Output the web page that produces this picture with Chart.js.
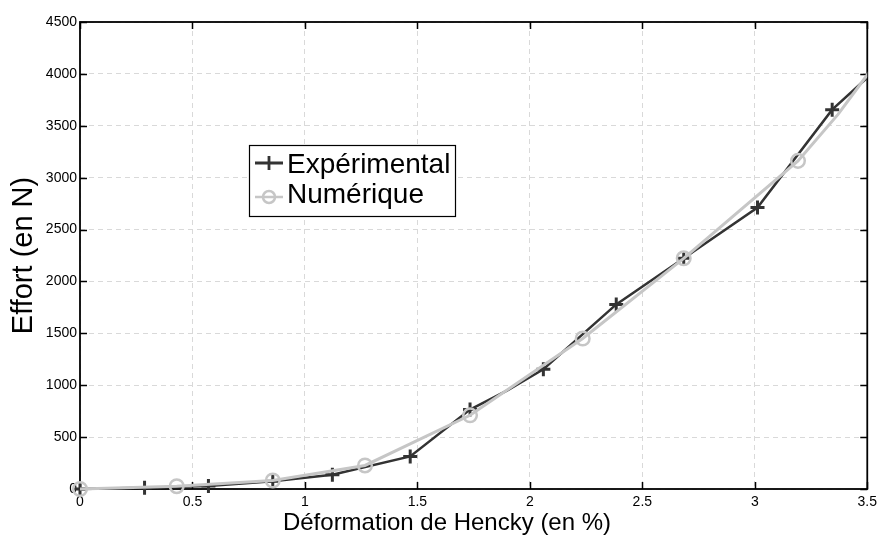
<!DOCTYPE html>
<html>
<head>
<meta charset="utf-8">
<script src="https://cdn.jsdelivr.net/npm/chart.js@4.4.0/dist/chart.umd.min.js"></script>
<style>
  html, body { margin: 0; padding: 0; background: #fff; }
  canvas { display: block; }
</style>
</head>
<body>
<canvas id="chart" width="882" height="535"></canvas>
<script>
// Expérimental (points with "+" markers)
const expStrain = [0, 0.287, 0.571, 0.857, 1.122, 1.468, 1.734, 2.06, 2.384, 2.684, 3.012, 3.344, 3.64];
const expForce  = [0, 12, 29, 75, 137, 314, 765, 1154, 1779, 2223, 2712, 3655, 4240];
// extra points of the black curve without marker
const expCurveStrain = [1.9];
const expCurveForce  = [950];

// Numérique (points with circle markers)
const numStrain = [0, 0.43, 0.857, 1.267, 1.734, 2.235, 2.684, 3.192, 3.65];
const numForce  = [0, 27, 82, 227, 710, 1450, 2223, 3162, 4430];
const numCurveStrain = [3.37];
const numCurveForce  = [3610];

const xTicks = [0, 0.5, 1, 1.5, 2, 2.5, 3, 3.5];
const yTicks = [0, 500, 1000, 1500, 2000, 2500, 3000, 3500, 4000, 4500];

const FONT = '"Liberation Sans", Arial, Helvetica, sans-serif';
const EXP_COLOR = '#333333';
const NUM_COLOR = '#c6c6c6';

// merge marked points and curve-only points, sorted on x
function buildSeries(xs, ys, cxs, cys) {
    const pts = xs.map((x, i) => ({ x: x, y: ys[i], marked: true }));
    cxs.forEach((x, i) => pts.push({ x: x, y: cys[i], marked: false }));
    pts.sort((a, b) => a.x - b.x);
    return pts;
}

const expData = buildSeries(expStrain, expForce, expCurveStrain, expCurveForce);
const numData = buildSeries(numStrain, numForce, numCurveStrain, numCurveForce);

// box, inward ticks, x title and legend
const framePlugin = {
    id: 'frame',
    beforeDatasetsDraw(chart) {
        const { ctx, chartArea: a, scales } = chart;
        const len = 7;
        ctx.save();
        ctx.strokeStyle = '#000';
        ctx.lineWidth = 1.5;
        ctx.beginPath();
        xTicks.forEach(v => {
            const px = Math.round(scales.x.getPixelForValue(v)) + 0.5;
            ctx.moveTo(px, a.bottom); ctx.lineTo(px, a.bottom - len);
            ctx.moveTo(px, a.top); ctx.lineTo(px, a.top + len);
        });
        yTicks.forEach(v => {
            const py = Math.round(scales.y.getPixelForValue(v)) + 0.5;
            ctx.moveTo(a.left, py); ctx.lineTo(a.left + len, py);
            ctx.moveTo(a.right, py); ctx.lineTo(a.right - len, py);
        });
        ctx.stroke();
        ctx.lineWidth = 1.8;
        ctx.strokeRect(a.left, a.top, a.right - a.left, a.bottom - a.top);
        ctx.restore();
    },
    afterDraw(chart) {
        const ctx = chart.ctx;
        ctx.save();
        // x axis title
        ctx.fillStyle = '#000';
        ctx.font = '24px ' + FONT;
        ctx.textAlign = 'center';
        ctx.textBaseline = 'alphabetic';
        ctx.fillText('Déformation de Hencky (en %)', 447, 530);

        // legend
        const bx = 249, by = 145, bw = 206, bh = 71;
        ctx.fillStyle = '#fff';
        ctx.fillRect(bx, by, bw, bh);
        ctx.strokeStyle = '#000';
        ctx.lineWidth = 1.2;
        ctx.strokeRect(bx + 0.5, by + 0.5, bw, bh);

        // row 1
        ctx.strokeStyle = EXP_COLOR;
        ctx.lineWidth = 2.8;
        ctx.beginPath();
        ctx.moveTo(255, 163); ctx.lineTo(283, 163);
        ctx.moveTo(269, 156); ctx.lineTo(269, 170);
        ctx.stroke();
        // row 2
        ctx.strokeStyle = NUM_COLOR;
        ctx.lineWidth = 2.5;
        ctx.beginPath();
        ctx.moveTo(255, 197); ctx.lineTo(283, 197);
        ctx.stroke();
        ctx.beginPath();
        ctx.arc(269, 197, 6, 0, Math.PI * 2);
        ctx.stroke();

        ctx.fillStyle = '#000';
        ctx.font = '28px ' + FONT;
        ctx.textAlign = 'left';
        ctx.fillText('Expérimental', 287, 173);
        ctx.fillText('Numérique', 287, 203);
        ctx.restore();
    }
};

const ctx = document.getElementById('chart').getContext('2d');

new Chart(ctx, {
    type: 'line',
    data: {
        datasets: [{
            label: 'Numérique',
            data: numData,
            borderColor: NUM_COLOR,
            borderWidth: 3,
            pointStyle: 'circle',
            pointRadius: c => (c.raw && c.raw.marked ? 6.8 : 0),
            pointBorderWidth: 2.5,
            pointBorderColor: NUM_COLOR,
            pointBackgroundColor: 'rgba(0,0,0,0)',
            tension: 0,
            order: 0,
            clip: { left: 12, top: 0, right: 0, bottom: 12 }
        }, {
            label: 'Expérimental',
            data: expData,
            borderColor: EXP_COLOR,
            borderWidth: 2.5,
            pointStyle: 'cross',
            pointRadius: c => (c.raw && c.raw.marked ? 7 : 0),
            pointBorderWidth: 3,
            pointBorderColor: EXP_COLOR,
            tension: 0,
            order: 1,
            clip: { left: 12, top: 0, right: 0, bottom: 12 }
        }]
    },
    options: {
        responsive: false,
        animation: false,
        events: [],
        layout: { padding: { top: 22, right: 10, left: 0, bottom: 0 } },
        plugins: {
            legend: { display: false },
            tooltip: { enabled: false }
        },
        scales: {
            x: {
                type: 'linear',
                min: 0,
                max: 3.5,
                afterBuildTicks: s => { s.ticks = xTicks.map(v => ({ value: v })); },
                afterFit: s => { s.height = 46; },
                ticks: {
                    color: '#000',
                    font: { family: FONT, size: 14 },
                    padding: 5,
                    maxRotation: 0,
                    callback: v => String(v)
                },
                grid: { color: '#d9d9d9', lineWidth: 1, drawTicks: false },
                border: { display: false, dash: [5, 4] }
            },
            y: {
                type: 'linear',
                min: 0,
                max: 4500,
                afterBuildTicks: s => { s.ticks = yTicks.map(v => ({ value: v })); },
                afterFit: s => { s.width = 80; },
                ticks: {
                    color: '#000',
                    font: { family: FONT, size: 14 },
                    padding: 3,
                    callback: v => String(v)
                },
                grid: { color: '#d9d9d9', lineWidth: 1, drawTicks: false },
                border: { display: false, dash: [5, 4] },
                title: {
                    display: true,
                    text: 'Effort (en N)',
                    color: '#000',
                    font: { family: FONT, size: 29, lineHeight: 1 },
                    padding: { top: 9, bottom: 0 }
                }
            }
        }
    },
    plugins: [framePlugin]
});
</script>
</body>
</html>
